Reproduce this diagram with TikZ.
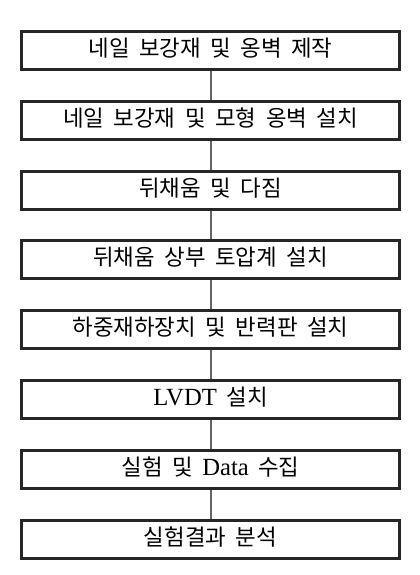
\documentclass[tikz,border=0pt]{standalone}
\usepackage{fontspec}
\newfontfamily\krfont[WordSpace=1.9]{Noto Sans CJK KR}
\newfontfamily\latfont{Liberation Serif}
\usetikzlibrary{positioning}

\begin{document}
\begin{tikzpicture}[x=0.75pt, y=-0.75pt]
                \tikzset{
                    stepbox/.style={draw=black!85, line width=2.25pt, minimum width=283.5pt, minimum height=28.5pt, inner sep=0pt,
                        text height=12pt, text depth=3pt, font=\krfont\fontsize{16.8}{19}\selectfont},
                    link/.style={draw=black!60, line width=1.5pt}
                }
                \useasboundingbox (0,0) rectangle (419,575);

                \node[stepbox] (s1) at (210.5, 50.5)  {네일 보강재 및 옹벽 제작};
                \node[stepbox] (s2) at (210.5, 120.3) {네일 보강재 및 모형 옹벽 설치};
                \node[stepbox] (s3) at (210.5, 190.1) {뒤채움 및 다짐};
                \node[stepbox] (s4) at (210.5, 259.9) {뒤채움 상부 토압계 설치};
                \node[stepbox] (s5) at (210.5, 329.7) {하중재하장치 및 반력판 설치};
                \node[stepbox] (s6) at (210.5, 399.5) {{\latfont\fontsize{18.5}{19}\selectfont LVDT} 설치};
                \node[stepbox] (s7) at (210.5, 469.3) {실험 및 {\latfont\fontsize{18.5}{19}\selectfont Data} 수집};
                \node[stepbox] (s8) at (210.5, 539.1) {실험결과 분석};

                % connecting lines
                \draw[link] (s1.south) -- (s2.north);
                \draw[link] (s2.south) -- (s3.north);
                \draw[link] (s3.south) -- (s4.north);
                \draw[link] (s4.south) -- (s5.north);
                \draw[link] (s5.south) -- (s6.north);
                \draw[link] (s6.south) -- (s7.north);
                \draw[link] (s7.south) -- (s8.north);
            \end{tikzpicture}
\end{document}
